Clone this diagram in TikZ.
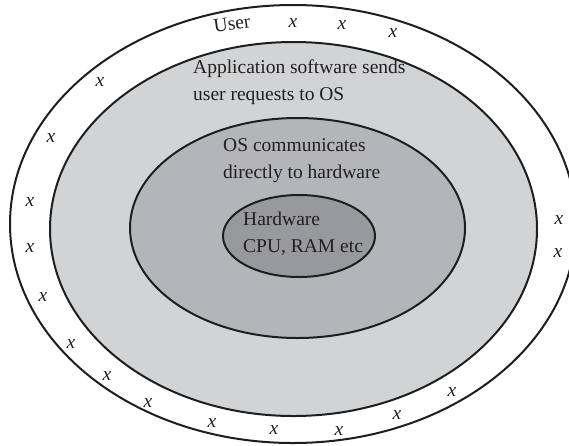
\documentclass[tikz,border=0pt]{standalone}
\usepackage{fontspec}
\setmainfont{Liberation Serif}
\definecolor{edgeclr}{RGB}{30,30,30}
\definecolor{appfill}{RGB}{209,211,212}
\definecolor{osfill}{RGB}{180,181,184}
\definecolor{hwfill}{RGB}{152,153,156}
\definecolor{txtclr}{RGB}{35,31,32}
\tikzset{
  layer/.style={draw=edgeclr,line width=2pt,fill=#1},
  lyrtxt/.style={font=\fontsize{19.5}{27}\selectfont,align=left,
    anchor=base west,inner sep=0pt,text=txtclr},
  usrtxt/.style={font=\fontsize{19.5}{20}\selectfont,inner sep=0pt,text=txtclr},
  usrx/.style={usrtxt,font=\fontsize{19.5}{20}\selectfont\itshape},
}

\begin{document}
\begin{tikzpicture}[x=1pt,y=1pt]
  \useasboundingbox (0,0) rectangle (569,-445);
  % User ring
  \draw[layer=white] (293,-224) ellipse [x radius=283,y radius=219];
  % Application software
  \draw[layer=appfill] (293.5,-229) ellipse [x radius=243.5,y radius=187];
  % OS
  \draw[layer=osfill] (297.5,-228) ellipse [x radius=167.5,y radius=110];
  % Hardware
  \draw[layer=hwfill] (299,-236) ellipse [x radius=76,y radius=41];
  % labels (anchored at the baseline of the last line)
  \node[usrtxt,rotate=8] (user) at (232,-24) {User};
  \node[lyrtxt] (appl) at (193,-100) {Application software sends\\user requests to OS};
  \node[lyrtxt] (os) at (223,-178) {OS communicates\\directly to hardware};
  \node[lyrtxt] (hw) at (243,-252) {Hardware\\CPU, RAM etc};
  % users round the ring
  \foreach \px/\py [count=\i] in {293/23,342/25,393/33,100/82,51/138,30/202,30/248,
      43/297,71/344,107/376,148/403,212/423,274/430,339/431,397/415,452/392,
      559/220,558/253}
    \node[usrx] (x\i) at (\px,-\py) {x};
\end{tikzpicture}
\end{document}
